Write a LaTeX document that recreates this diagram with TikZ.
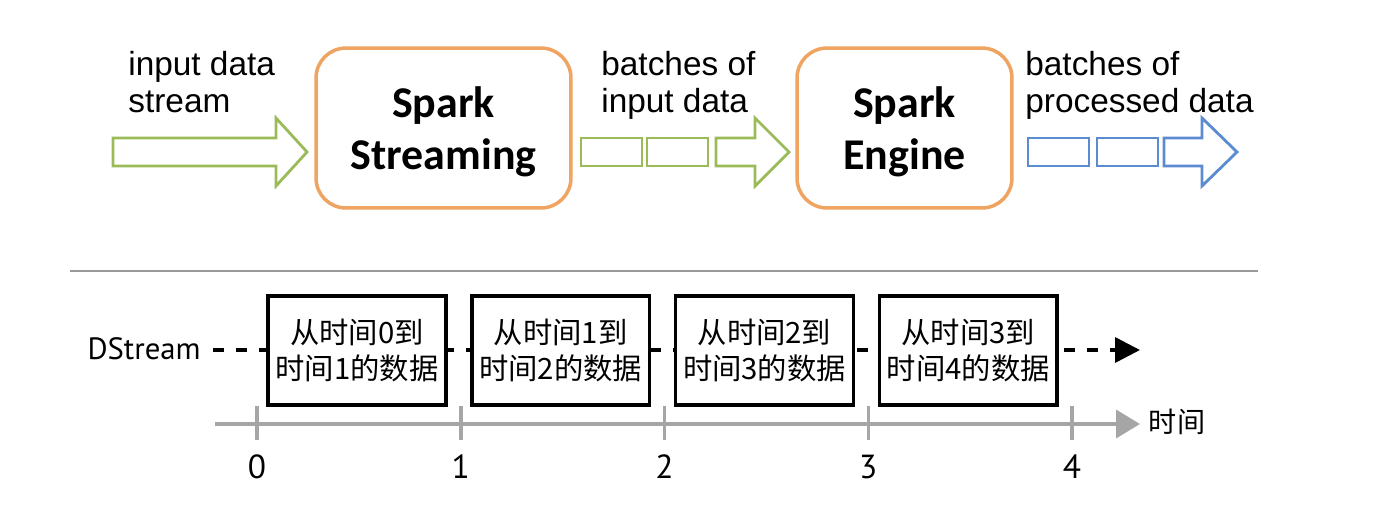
\documentclass[tikz,border=0pt]{standalone}
\usepackage{fontspec}
\setmainfont{Liberation Sans}
\newfontfamily\boxfont{Carlito}
\newfontfamily\condfont{PT Sans}
\newfontfamily\cjk{Noto Sans CJK SC}
\usetikzlibrary{arrows.meta}
\definecolor{sgreen}{HTML}{9BBB59}
\definecolor{sorange}{HTML}{F0A462}
\definecolor{sblue}{HTML}{5B8BD0}
\definecolor{axgray}{HTML}{A6A6A6}
\tikzset{
  proc/.style={draw=sorange, line width=2pt, rounded corners=0.6cm, minimum height=3.2cm, align=center, text depth=-0.1cm, font=\boxfont\bfseries\fontsize{25}{29.5}\selectfont},
  lbl/.style={anchor=north west, inner sep=0, align=left, font=\fontsize{19}{21}\selectfont},
  databox/.style={draw, fill=white, line width=2pt, minimum width=3.56cm, minimum height=2.18cm, align=center, inner sep=0, font=\cjk\fontsize{16.7}{21}\selectfont}
}
\begin{document}
\begin{tikzpicture}[x=0.02cm, y=-0.02cm]
  \useasboundingbox (0,0) rectangle (1400,528);
  % top row
  \node[lbl] (inlbl) at (128,51) {input data\\stream};
  \node[lbl] (batin) at (601,51) {batches of\\input data};
  \node[lbl] (batout) at (1025,51) {batches of\\processed data};
  \node[proc, minimum width=5.1cm] (ss) at (443.5,128) {Spark\\Streaming};
  \node[proc, minimum width=4.3cm] (eng) at (904.5,128) {Spark\\Engine};
  \foreach \a/\b/\t/\c in {113/276/307/sgreen, 716/755/789/sgreen, 1164/1202/1237/sblue}
    \draw[\c, line width=1.6pt, line join=miter] (\a,138) -- (\b,138) -- (\b,118) -- (\t,152) -- (\b,186) -- (\b,166) -- (\a,166) -- cycle;
  \foreach \a/\c in {581/sgreen, 647/sgreen, 1028/sblue, 1097/sblue}
    \draw[\c, line width=1.6pt] (\a,138) rectangle ++(61,28);
  \draw[gray!80, line width=1.2pt] (70,271) -- (1258,271);
  % DStream
  \node[anchor=east, inner sep=0, font=\condfont\fontsize{17.5}{21}\selectfont] (ds) at (201,349) {DStream};
  \coordinate (dsend) at (1140,350);
  \draw[line width=2pt, dash pattern=on 0.22cm off 0.24cm, shorten <=0.24cm, -{Triangle[length=0.5cm, width=0.5cm]}] (ds.east |- dsend) -- (dsend);
  \foreach \i in {0,...,3} {
    \pgfmathtruncatemacro\j{\i+1}
    \node[databox] (d\i) at (357+203.75*\i,350.5) {从时间\i 到\\时间\j 的数据};
  }
  % time axis
  \coordinate (ax0) at (215,424);
  \coordinate (ax1) at (1140,424);
  \draw[axgray, line width=2.2pt, -{Triangle[length=0.48cm, width=0.56cm]}] (ax0) -- (ax1);
  \foreach \i in {0,...,4} {
    \draw[axgray, line width=2pt] (257+203.75*\i,406) -- (257+203.75*\i,440);
    \node[font=\condfont\fontsize{19}{21}\selectfont] (t\i) at (257+203.75*\i,467) {\i};
  }
  \node[font=\cjk\fontsize{16}{20}\selectfont] (tlbl) at (1177,422) {时间};
\end{tikzpicture}
\end{document}
